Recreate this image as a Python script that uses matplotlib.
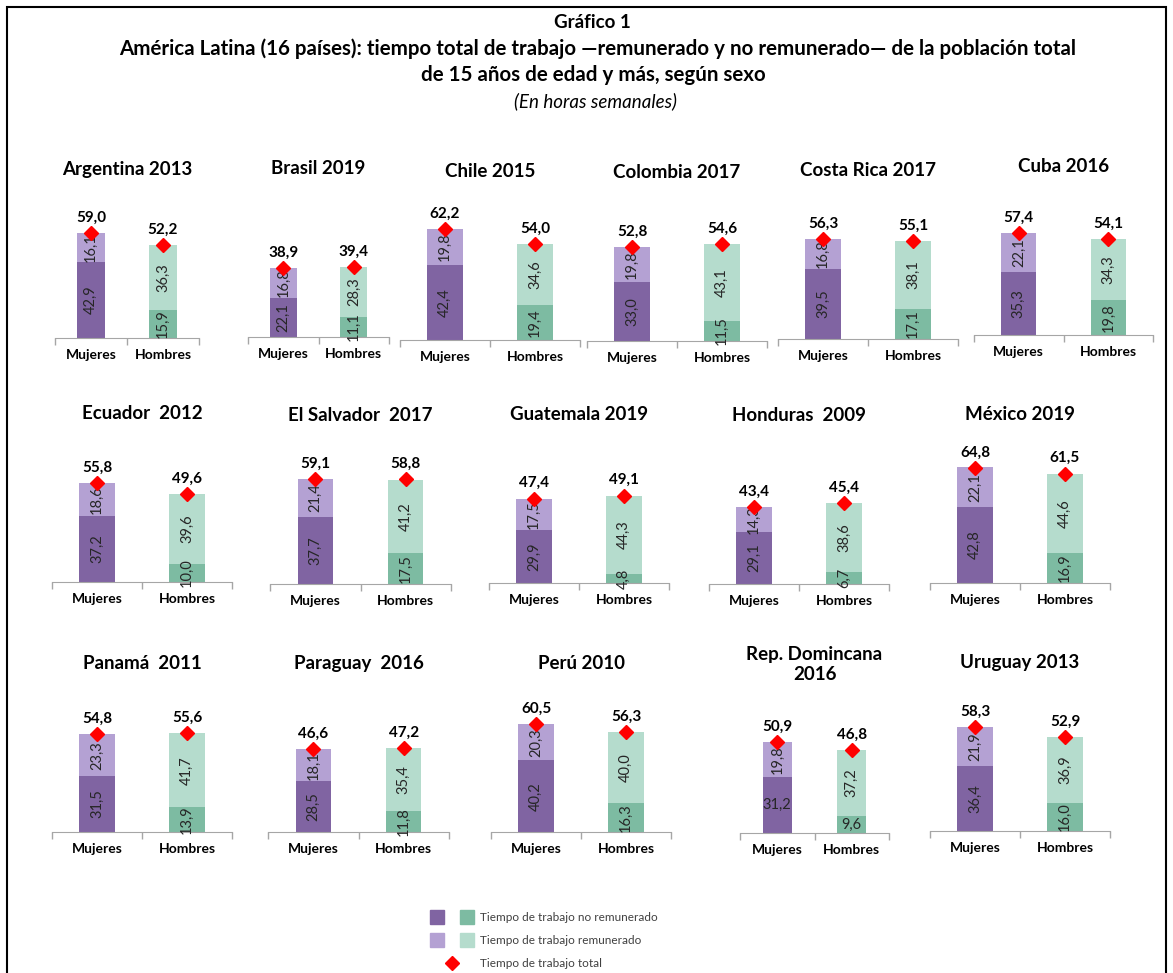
import matplotlib.pyplot as plt
from matplotlib.lines import Line2D
from matplotlib.legend_handler import HandlerTuple
from matplotlib.patches import Rectangle

plt.rcParams['font.family'] = ['Lato', 'DejaVu Sans']

# hours per week, women / men
countries = ["Argentina 2013", "Brasil 2019", "Chile 2015", "Colombia 2017",
             "Costa Rica 2017", "Cuba 2016", "Ecuador  2012", "El Salvador  2017",
             "Guatemala 2019", "Honduras  2009", "México 2019", "Panamá  2011",
             "Paraguay  2016", "Perú 2010", "Rep. Domincana\n2016", "Uruguay 2013"]
muj_no_rem = [42.9, 22.1, 42.4, 33.0, 39.5, 35.3, 37.2, 37.7, 29.9, 29.1, 42.8,
              31.5, 28.5, 40.2, 31.2, 36.4]
muj_rem = [16.1, 16.8, 19.8, 19.8, 16.8, 22.1, 18.6, 21.4, 17.5, 14.3, 22.1,
           23.3, 18.1, 20.3, 19.8, 21.9]
muj_total = [59.0, 38.9, 62.2, 52.8, 56.3, 57.4, 55.8, 59.1, 47.4, 43.4, 64.8,
             54.8, 46.6, 60.5, 50.9, 58.3]
hom_no_rem = [15.9, 11.1, 19.4, 11.5, 17.1, 19.8, 10.0, 17.5, 4.8, 6.7, 16.9,
              13.9, 11.8, 16.3, 9.6, 16.0]
hom_rem = [36.3, 28.3, 34.6, 43.1, 38.1, 34.3, 39.6, 41.2, 44.3, 38.6, 44.6,
           41.7, 35.4, 40.0, 37.2, 36.9]
hom_total = [52.2, 39.4, 54.0, 54.6, 55.1, 54.1, 49.6, 58.8, 49.1, 45.4, 61.5,
             55.6, 47.2, 56.3, 46.8, 52.9]
sexes = ["Mujeres", "Hombres"]
legend_labels = ["Tiempo de trabajo no remunerado", "Tiempo de trabajo remunerado",
                 "Tiempo de trabajo total"]

# panel placement in pixels: axis left, axis right, baseline
panel_px = [(55, 199, 338), (248, 389, 337), (400, 580, 340), (587, 767, 341),
            (778, 958, 339), (974, 1153, 335),
            (52, 232, 582), (270, 451, 584), (489, 669, 583), (709, 889, 584),
            (930, 1110, 583),
            (52, 232, 832), (268, 449, 832), (491, 671, 832), (740, 889, 833),
            (930, 1110, 831)]
flat_lower_labels = [14]

C_MUJ_DARK, C_MUJ_LIGHT = "#8064a2", "#b4a1d3"
C_HOM_DARK, C_HOM_LIGHT = "#7dbba2", "#b5dccd"
AXIS_GREY = "#a6a6a6"

W, H = 1173, 973
PX_PER_UNIT = 1.78
YMAX = 70
AX_H = YMAX * PX_PER_UNIT


def fmt(v):
    return f"{v:.1f}".replace('.', ',')


fig = plt.figure(figsize=(W / 100, H / 100), dpi=100)

fig.patches.append(Rectangle((7 / W, -0.05), (1166 - 7) / W, 1.05 - 7 / H,
                             transform=fig.transFigure, fill=False,
                             edgecolor='black', linewidth=1.5))

fig.text(592 / W, 1 - 22 / H, "Gráfico 1", ha='center', va='center',
         fontsize=13.5, fontweight='bold')
fig.text(598 / W, 1 - 49 / H,
         "América Latina (16 países): tiempo total de trabajo \u2014remunerado y no "
         "remunerado\u2014 de la población total", ha='center', va='center',
         fontsize=14.8, fontweight='bold')
fig.text(593 / W, 1 - 75 / H, "de 15 años de edad y más, según sexo",
         ha='center', va='center', fontsize=14.8, fontweight='bold')
fig.text(595 / W, 1 - 101 / H, "(En horas semanales)", ha='center', va='center',
         fontsize=13.5, style='italic')

for i, name in enumerate(countries):
    left, right, base = panel_px[i]
    ax = fig.add_axes([left / W, 1 - base / H, (right - left) / W, AX_H / H])
    ax.set_xlim(-0.5, 1.5)
    ax.set_ylim(0, YMAX)

    x = [0, 1]
    lower = [muj_no_rem[i], hom_no_rem[i]]
    upper = [muj_rem[i], hom_rem[i]]
    totals = [muj_total[i], hom_total[i]]

    ax.bar(x, lower, width=0.39, color=[C_MUJ_DARK, C_HOM_DARK])
    ax.bar(x, upper, bottom=lower, width=0.39, color=[C_MUJ_LIGHT, C_HOM_LIGHT])
    ax.plot(x, totals, 'D', color='red', markersize=7, zorder=5, clip_on=False)

    rot_low = 0 if i in flat_lower_labels else 90
    for xi, lo, up, tot in zip(x, lower, upper, totals):
        ax.text(xi, lo / 2, fmt(lo), rotation=rot_low, ha='center', va='center',
                fontsize=10.5, color='#262626')
        ax.text(xi, lo + up / 2, fmt(up), rotation=90, ha='center', va='center',
                fontsize=10.5, color='#262626')
        ax.annotate(fmt(tot), (xi, tot), xytext=(0, 6), textcoords='offset points',
                    ha='center', va='bottom', fontsize=11, fontweight='bold',
                    annotation_clip=False)

    ax.text(0.5, 1 + 44 / AX_H, name, transform=ax.transAxes, ha='center',
            va='center', fontsize=13.5, fontweight='bold', linespacing=1.2)

    ax.set_xticks(x, sexes, fontsize=10, fontweight='bold')
    ax.set_xticks([-0.5, 0.5, 1.5], minor=True)
    ax.tick_params(axis='x', which='major', length=0, pad=8)
    ax.tick_params(axis='x', which='minor', length=5, color=AXIS_GREY, width=1)
    ax.set_yticks([])
    for side in ['left', 'right', 'top']:
        ax.spines[side].set_visible(False)
    ax.spines['bottom'].set_color(AXIS_GREY)
    ax.patch.set_visible(False)


def square(color):
    return Line2D([], [], marker='s', linestyle='none', markersize=9.5,
                  markerfacecolor=color, markeredgecolor=color)


handles = [(square(C_MUJ_DARK), square(C_HOM_DARK)),
           (square(C_MUJ_LIGHT), square(C_HOM_LIGHT)),
           Line2D([], [], marker='D', linestyle='none', color='red', markersize=7.5)]
fig.legend(handles, legend_labels, loc='upper left',
           bbox_to_anchor=(430 / W, 1 - 912 / H), frameon=False, fontsize=8.5,
           handlelength=3.65, handletextpad=0.6, labelspacing=1.02,
           borderpad=0, borderaxespad=0, labelcolor='#404040',
           handler_map={tuple: HandlerTuple(ndivide=None, pad=1.44)})

fig.savefig("out.png", dpi=100)
